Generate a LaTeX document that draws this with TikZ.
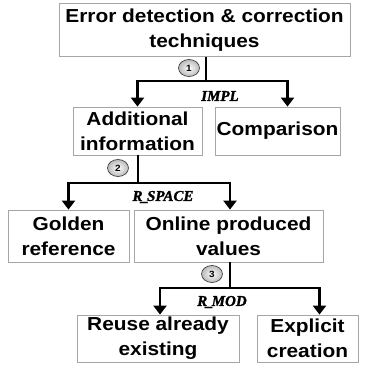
\documentclass[tikz,border=0pt]{standalone}
\usepackage{fontspec}
\setmainfont{Liberation Sans}[FakeStretch=1.11]
\newfontfamily\lblfont{Liberation Serif}[FakeBold=1.5]
\usetikzlibrary{arrows.meta,calc,shapes.geometric}
\begin{document}
\begin{tikzpicture}[x=1pt,y=-1pt,
  box/.style={draw=gray!70, line width=0.8pt, align=center,
    font=\fontsize{18.8}{25}\selectfont\bfseries, inner sep=0pt},
  conn/.style={line width=2.8pt},
  arr/.style={conn, -{Triangle[width=13pt,length=9pt]}},
  num/.style={ellipse, draw=black!75, line width=0.7pt, inner color=white,
    outer color=gray!55, minimum width=21pt, minimum height=17pt, inner sep=0pt,
    font=\fontsize{9}{9}\selectfont\bfseries},
  lbl/.style={font=\lblfont\fontsize{15}{15}\selectfont\bfseries\itshape}]
\useasboundingbox (0,0) rectangle (369,366);

% boxes
\node[box, minimum width=291pt, minimum height=53pt] (top) at (204.5,30) {Error detection \& correction\\techniques};
\node[box, minimum width=129pt, minimum height=48pt] (add) at (137.5,131) {Additional\\information};
\node[box, minimum width=125pt, minimum height=48pt] (cmp) at (277.5,131) {Comparison};
\node[box, minimum width=121pt, minimum height=52pt] (gold) at (68.5,236) {Golden\\reference};
\node[box, minimum width=189pt, minimum height=52pt] (onl) at (228.5,236) {Online produced\\values};
\node[box, minimum width=162pt, minimum height=47pt] (reuse) at (158,338.5) {Reuse already\\existing};
\node[box, minimum width=101pt, minimum height=47pt] (expl) at (307.5,338.5) {Explicit\\creation};

% junctions
\coordinate (j1) at (206,81);
\coordinate (j2) at (138,183);
\coordinate (j3) at (230,288);

% connectors
\draw[conn] (top.south -| j1) -- (j1);
\draw[arr] (j1) -| (add.north);
\draw[arr] (j1) -| ([xshift=10pt]cmp.north);

\draw[conn] (add.south -| j2) -- (j2);
\draw[arr] (j2) -| (gold.north);
\draw[arr] (j2) -| ([xshift=1.5pt]onl.north);

\draw[conn] (onl.south -| j3) -- (j3);
\draw[arr] (j3) -| ([xshift=2pt]reuse.north);
\draw[arr] (j3) -| ([xshift=12pt]expl.north);

% numbered circles
\node[num] (n1) at (189,68) {1};
\node[num] (n2) at (118,168) {2};
\node[num] (n3) at (212,274) {3};

% labels
\node[lbl] (l1) at (220,96) {IMPL};
\node[lbl] (l2) at (163,197) {R\kern-1.5pt\_\kern-1.5pt SPACE};
\node[lbl] (l3) at (222,302) {R\kern-1.5pt\_\kern-1.5pt MOD};
\end{tikzpicture}
\end{document}
